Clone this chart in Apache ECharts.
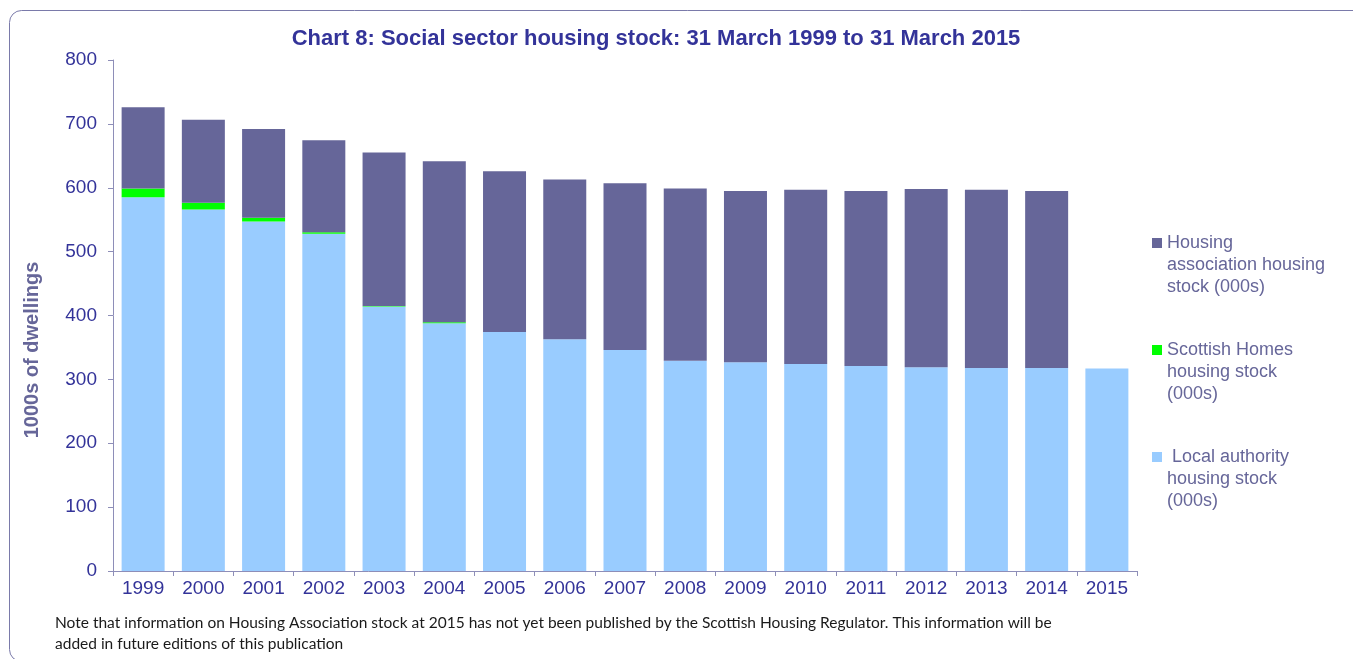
<!DOCTYPE html>
<html>
<head>
<meta charset="utf-8">
<script src="https://cdn.jsdelivr.net/npm/echarts@6/dist/echarts.min.js"></script>
<style>
html,body{margin:0;padding:0;background:#fff;}
#chart{width:1353px;height:659px;}
</style>
</head>
<body>
<div id="chart"></div>
<script>
const categories = ['1999','2000','2001','2002','2003','2004','2005','2006','2007','2008','2009','2010','2011','2012','2013','2014','2015'];
const localAuthority = [585,566,547,528,414,388,374,363,346,329,327,324,321,319,318,318,317];
const scottishHomes = [14,10.5,6,2.5,1,1.5,null,null,null,null,null,null,null,null,null,null,null];
const housingAssociation = [127,130,139,144,240,252,252,250,261,270,268,273,274,279,279,277,null];
const yTicks = [0,100,200,300,400,500,600,700,800];

const titleText = 'Chart 8: Social sector housing stock: 31 March 1999 to 31 March 2015';
const yName = '1000s of dwellings';
const noteLines = ['Note that information on Housing Association stock at 2015 has not yet been published by the Scottish Housing Regulator. This information will be',
  'added in future editions of this publication'];
const names = ['Housing\nassociation housing\nstock (000s)', 'Scottish Homes\nhousing stock\n(000s)', ' Local authority\nhousing stock\n(000s)'];

const FONT = '"Liberation Sans", Arial, sans-serif';
// legend icon: a 10x10 square aligned with the first text line of a 66px-tall item
const legendIcon = 'path://M0,0L10,0L10,0.01Z M0,6L10,6L10,16L0,16Z M0,65.99L10,65.99L10,66Z';

const chart = echarts.init(document.getElementById('chart'), null, {renderer:'canvas'});
chart.setOption({
  backgroundColor:'#ffffff',
  animation:false,
  title:{
    text:titleText, left:656, top:28, padding:0, textAlign:'center',
    textStyle:{fontFamily:FONT, fontSize:22, fontWeight:'bold', color:'#333399'}
  },
  legend:{
    orient:'vertical', left:1152, top:232, padding:0, itemWidth:10, itemHeight:66, itemGap:41,
    icon:legendIcon, selectedMode:false,
    data:[names[0], names[1], names[2]],
    textStyle:{fontFamily:FONT, fontSize:18, color:'#666699', lineHeight:22}
  },
  grid:{left:113, right:216, top:60, bottom:88, containLabel:false},
  xAxis:{
    type:'category', data:categories,
    axisLine:{lineStyle:{color:'#8e8eb8', width:1}},
    axisTick:{show:true, length:5, lineStyle:{color:'#8e8eb8'}},
    axisLabel:{fontFamily:FONT, fontSize:19, color:'#333399', margin:8}
  },
  yAxis:{
    type:'value', min:yTicks[0], max:yTicks[yTicks.length-1], interval:100,
    splitLine:{show:false},
    axisLine:{show:true, lineStyle:{color:'#8e8eb8', width:1}},
    axisTick:{show:true, length:5, lineStyle:{color:'#8e8eb8'}},
    axisLabel:{fontFamily:FONT, fontSize:19, color:'#333399', margin:16}
  },
  series:[
    {name:names[2], type:'bar', stack:'s', data:localAuthority, barWidth:43, itemStyle:{color:'#99ccff'}},
    {name:names[1], type:'bar', stack:'s', data:scottishHomes, barWidth:43, itemStyle:{color:'#00ff00'}},
    {name:names[0], type:'bar', stack:'s', data:housingAssociation, barWidth:43, itemStyle:{color:'#666699'}}
  ],
  graphic:[
    {type:'rect', shape:{x:9.5, y:10.5, width:1360, height:651, r:12}, silent:true, z:-10,
      style:{fill:null, stroke:'#7a7aaa', lineWidth:1}},
    {type:'text', x:32, y:350, rotation:Math.PI/2, silent:true,
      style:{text:yName, fontFamily:FONT, fontSize:20, fontWeight:'bold', fill:'#666699', align:'center', verticalAlign:'middle'}},
    {type:'text', left:55, top:612, silent:true,
      style:{text:noteLines.join('\n'), fontFamily:'Lato, "Open Sans", sans-serif', fontSize:15.5, lineHeight:21.5, fill:'#1a1a1a'}}
  ]
});
</script>
</body>
</html>
